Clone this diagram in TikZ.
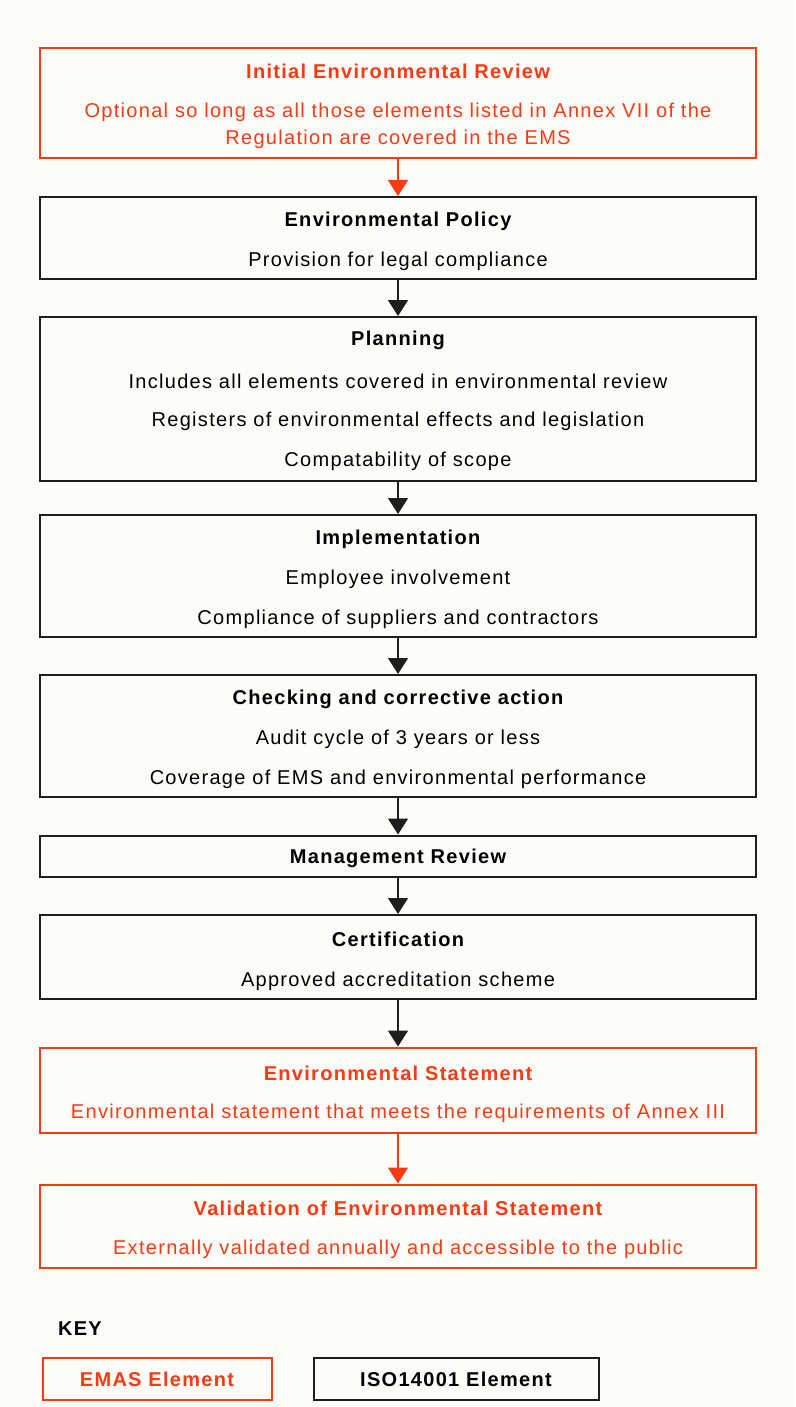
\documentclass[tikz,border=0pt]{standalone}
\usepackage{fontspec}
\setmainfont{Liberation Sans}[LetterSpace=6.5]
\usetikzlibrary{arrows.meta}
\definecolor{emas}{RGB}{250,58,18}
\definecolor{iso}{RGB}{30,30,30}
\definecolor{paper}{RGB}{252,253,250}
\tikzset{
  x=1pt, y=-1pt,
  stagebox/.style={draw, line width=2pt, minimum width=716pt, inner sep=0pt},
  emasbox/.style={stagebox, draw=emas},
  isobox/.style={stagebox, draw=iso},
  ttl/.style={font=\fontsize{20}{23}\selectfont\bfseries, inner sep=0pt},
  txt/.style={font=\fontsize{20}{23}\selectfont, inner sep=0pt},
  flow/.style={line width=1.6pt, -{Triangle[width=20pt,length=16pt]}},
}
\begin{document}
\begin{tikzpicture}
\fill[paper] (0,0) rectangle (795,1407);
\useasboundingbox (0,0) rectangle (795,1407);

% stage boxes
\node[emasbox, minimum height=110pt] (b1) at (398,103) {};
\node[isobox, minimum height=82pt] (b2) at (398,238) {};
\node[isobox, minimum height=164pt] (b3) at (398,399) {};
\node[isobox, minimum height=122pt] (b4) at (398,576) {};
\node[isobox, minimum height=122pt] (b5) at (398,736) {};
\node[isobox, minimum height=41pt] (b6) at (398,856) {};
\node[isobox, minimum height=84pt] (b7) at (398,957) {};
\node[emasbox, minimum height=85pt] (b8) at (398,1090) {};
\node[emasbox, minimum height=83pt] (b9) at (398,1226) {};

% texts
\node[ttl, text=emas] (t1) at (398,71) {Initial Environmental Review};
\node[txt, text=emas] (t1a) at (398,112) {Optional so long as all those elements listed in Annex VII of the};
\node[txt, text=emas] (t1b) at (398,139) {Regulation are covered in the EMS};

\node[ttl] (t2) at (398,221) {Environmental Policy};
\node[txt] (t2a) at (398,261) {Provision for legal compliance};

\node[ttl] (t3) at (398,340) {Planning};
\node[txt] (t3a) at (398,381) {Includes all elements covered in environmental review};
\node[txt] (t3b) at (398,421) {Registers of environmental effects and legislation};
\node[txt] (t3c) at (398,461) {Compatability of scope};

\node[ttl] (t4) at (398,539) {Implementation};
\node[txt] (t4a) at (398,579) {Employee involvement};
\node[txt] (t4b) at (398,619) {Compliance of suppliers and contractors};

\node[ttl] (t5) at (398,699) {Checking and corrective action};
\node[txt] (t5a) at (398,739) {Audit cycle of 3 years or less};
\node[txt] (t5b) at (398,779) {Coverage of EMS and environmental performance};

\node[ttl] (t6) at (398,858) {Management Review};

\node[ttl] (t7) at (398,939) {Certification};
\node[txt] (t7a) at (398,981) {Approved accreditation scheme};

\node[ttl, text=emas] (t8) at (398,1073) {Environmental Statement};
\node[txt, text=emas] (t8a) at (398,1113) {Environmental statement that meets the requirements of Annex III};

\node[ttl, text=emas] (t9) at (398,1208) {Validation of Environmental Statement};
\node[txt, text=emas] (t9a) at (398,1249) {Externally validated annually and accessible to the public};

% flow arrows
\draw[flow, draw=emas, fill=emas] (b1.south) -- (b2.north);
\draw[flow, draw=iso, fill=iso] (b2.south) -- (b3.north);
\draw[flow, draw=iso, fill=iso] (b3.south) -- (b4.north);
\draw[flow, draw=iso, fill=iso] (b4.south) -- (b5.north);
\draw[flow, draw=iso, fill=iso] (b5.south) -- (b6.north);
\draw[flow, draw=iso, fill=iso] (b6.south) -- (b7.north);
\draw[flow, draw=iso, fill=iso] (b7.south) -- (b8.north);
\draw[flow, draw=emas, fill=emas] (b8.south) -- (b9.north);

% key
\node[ttl] (key) at (80,1329) {KEY};
\node[emasbox, minimum width=229pt, minimum height=42pt, ttl, text=emas] (k1) at (157,1379) {EMAS Element};
\node[isobox, minimum width=285pt, minimum height=42pt, ttl] (k2) at (456,1379) {ISO14001 Element};
\end{tikzpicture}
\end{document}
